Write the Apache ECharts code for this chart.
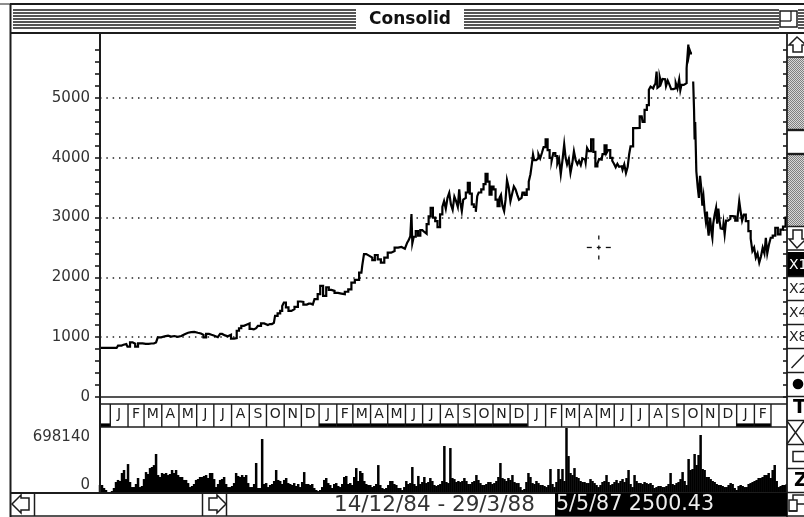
<!DOCTYPE html>
<html><head><meta charset="utf-8">
<style>html,body{margin:0;padding:0;background:#fff}#c{width:804px;height:517px}</style>
<script src="https://cdn.jsdelivr.net/npm/echarts@6/dist/echarts.min.js"></script>
</head><body><div id="c"></div>
<script>
const startDate = Date.UTC(1984, 11, 14);
const totalDays = 1201;
const pricePoints = [[0,820],[29,820],[34,858],[41,875],[46,885],[50,842],[55,913],[59,890],[64,842],[69,897],[80,890],[90,895],[98,913],[104,997],[110,1015],[116,1025],[122,1010],[127,1020],[133,1005],[139,1020],[145,1050],[151,1075],[157,1085],[162,1090],[168,1075],[174,1063],[179,1040],[183,997],[188,1055],[193,1040],[197,1025],[203,1000],[209,1025],[211,1055],[216,1030],[221,1015],[226,1040],[232,975],[237,985],[241,1108],[245,1150],[249,1190],[254,1210],[258,1230],[265,1140],[269,1130],[273,1150],[279,1190],[284,1230],[290,1205],[297,1220],[304,1240],[308,1358],[313,1400],[317,1440],[320,1520],[323,1580],[327,1500],[332,1440],[337,1470],[343,1508],[349,1597],[353,1590],[358,1545],[365,1560],[372,1545],[378,1636],[383,1720],[387,1858],[393,1690],[398,1835],[402,1790],[407,1775],[413,1740],[419,1730],[425,1720],[431,1760],[437,1800],[442,1913],[449,1960],[457,2080],[460,2200],[463,2390],[468,2360],[474,2330],[478,2290],[483,2375],[488,2300],[494,2247],[500,2330],[506,2413],[512,2440],[518,2497],[524,2508],[530,2480],[536,2508],[538,2580],[541,2620],[544,2690],
[545,3058],[547,2570],[550,2680],[554,2775],[558,2700],[562,2790],[565,2760],[569,2730],[573,2890],[576,3020],[580,3163],[584,3000],[588,2940],[592,2840],[597,3055],[600,3180],[603,3275],[606,3150],[609,3330],[612,3413],[615,3220],[618,3130],[621,3350],[624,3275],[627,3180],[629,3472],[631,3250],[634,3108],[636,3300],[638,3330],[641,3420],[645,3580],[648,3400],[652,3220],[655,3180],[659,3097],[660,3358],[664,3420],[669,3472],[672,3560],[676,3730],[679,3600],[683,3385],[686,3520],[690,3472],[693,3300],[697,3192],[700,3330],[702,3380],[705,3200],[708,3108],[710,3300],[713,3625],[716,3500],[719,3275],[722,3400],[725,3520],[728,3472],[731,3380],[734,3300],[737,3330],[740,3420],[744,3380],[748,3472],[751,3600],[754,3725],[756,3900],[758,4055],[760,3960],[765,3992],[768,4060],[771,3990],[774,4080],[777,4180],[781,4308],[784,4130],[788,4000],[791,3950],[794,4080],[798,4030],[801,3900],[804,3980],[807,3725],[810,3960],[813,4225],[815,4000],[818,3890],[821,3980],[824,3747],[827,3900],[830,4108],[833,3960],[836,3890],[839,3950],[842,3880],[845,3990],[848,3970],[850,3920],[853,4163],[856,4110],[861,4308],[864,4100],[868,3858],[871,3900],[874,3980],[877,3970],[880,4060],[884,4208],[887,4080],[890,4130],[894,4000],[897,3950],[900,3900],[903,3842],[906,3900],[909,3850],[912,3858],[915,3800],[918,3890],[921,3747],[924,3850],[926,4055],[929,4192],
[935,4497],[940,4500],[947,4692],[950,4600],[954,4803],[958,4880],[961,5139],[964,5190],[967,5160],[970,5200],[972,5240],[974,5442],[975,5170],[977,5200],[980,5350],[982,5250],[985,5320],[988,5314],[991,5200],[994,5290],[997,5225],[1000,5150],[1005,5164],[1008,5250],[1011,5160],[1014,5310],[1015,5130],[1018,5220],[1023,5247],[1028,5497],[1029,5892],[1030,5720],[1032,5800],[1034,5747],[1036,null],
[1038,5275],[1039,4800],[1040,4308],[1041,4600],[1044,3775],[1046,3500],[1048,3330],[1050,3700],[1052,3500],[1054,3200],[1056,3350],[1058,3108],[1060,2950],[1062,3100],[1063,2830],[1065,2700],[1068,3000],[1070,2750],[1071,2663],[1073,2900],[1076,3050],[1078,3163],[1080,2900],[1082,3150],[1084,2950],[1086,2820],[1089,2808],[1091,2900],[1093,2720],[1096,2950],[1100,2980],[1104,3025],[1108,3020],[1113,2950],[1116,3000],[1119,3275],[1121,3100],[1124,2950],[1127,3050],[1131,2940],[1136,2775],[1139,2650],[1142,2442],[1145,2500],[1148,2330],[1151,2400],[1154,2247],[1157,2350],[1160,2497],[1163,2400],[1165,2663],[1168,2400],[1171,2550],[1174,2663],[1178,2700],[1183,2830],[1187,2720],[1192,2800],[1196,2850],[1201,3000]];
const volumeStepDays = 3.5;
const volumeThousands = [86,86,54,32,11,11,21,54,118,140,129,215,247,150,311,118,64,64,97,161,64,75,150,225,204,268,279,300,419,193,172,215,204,215,193,204,247,215,247,193,172,172,140,140,107,64,75,97,140,150,172,172,183,193,161,215,215,150,64,97,140,150,172,97,64,64,75,107,215,183,172,193,172,193,107,64,64,97,322,54,54,580,97,107,64,
86,97,129,247,140,129,97,140,161,107,97,86,107,75,97,64,118,225,97,97,86,97,54,32,21,32,64,140,161,107,86,54,97,107,75,64,97,172,183,97,107,86,172,268,129,236,215,129,97,86,86,64,75,97,300,86,54,43,54,86,129,129,97,86,54,54,32,64,129,97,107,279,97,75,183,97,118,172,107,118,161,129,86,75,86,97,129,505,118,107,483,161,150,118,129,118,129,161,129,97,97,118,129,193,140,107,86,86,97,118,118,97,107,129,172,322,161,150,129,161,140,193,118,107,107,64,32,43,118,215,172,107,97,
129,107,86,86,75,64,86,258,97,64,118,258,150,258,129,698,397,215,193,268,172,161,129,118,118,107,107,150,129,107,86,64,86,118,129,193,118,86,97,118,140,107,129,150,118,161,247,97,64,193,129,107,107,97,118,107,97,107,86,54,64,75,75,64,64,75,97,215,97,86,107,118,150,225,129,86,365,247,258,419,301,408,623,258,247,172,172,150,129,118,97,86,86,75,64,64,86,107,97,54,32,75,86,75,64,64,97,107,118,129,140,161,161,172,193,193,215,161,247,301,129,64,75,86,86,97];
const priceTicks = [0,200,400,600,800,1000,1200,1400,1600,1800,2000,2200,2400,2600,2800,3000,3200,3400,3600,3800,4000,4200,4400,4600,4800,5000,5200,5400,5600,5800];
const priceLabels = [0,1000,2000,3000,4000,5000];
const priceMax = 6087;
const priceGridLines = [0,1000,2000,3000,4000,5000,priceMax];
const volumeMax = 698140;
const monthLetters = ['', 'J','F','M','A','M','J','J','A','S','O','N','D','J','F','M','A','M','J','J','A','S','O','N','D','J','F','M','A','M','J','J','A','S','O','N','D','J','F',''];
const monthStarts = ['1984-12-14','1985-01-01','1985-02-01','1985-03-01','1985-04-01','1985-05-01','1985-06-01','1985-07-01','1985-08-01','1985-09-01','1985-10-01','1985-11-01','1985-12-01','1986-01-01','1986-02-01','1986-03-01','1986-04-01','1986-05-01','1986-06-01','1986-07-01','1986-08-01','1986-09-01','1986-10-01','1986-11-01','1986-12-01','1987-01-01','1987-02-01','1987-03-01','1987-04-01','1987-05-01','1987-06-01','1987-07-01','1987-08-01','1987-09-01','1987-10-01','1987-11-01','1987-12-01','1988-01-01','1988-02-01','1988-03-01'];
const cursorDate = '1987-05-05', cursorValue = 2500.43;
const titleText = 'Consolid', rangeText = '14/12/84 - 29/3/88', cursorText = '5/5/87 2500.43';

const dayOf = s => (Date.parse(s + 'T00:00:00Z') - startDate) / 864e5;
const INK = '#1c1c1c';
const fontA = '"DejaVu Sans"';

const chart = echarts.init(document.getElementById('c'), null, {renderer:'canvas', width:804, height:517});

const volumeData = volumeThousands.map((v,i)=>[i*volumeStepDays, v*1000]);
const monthData = monthStarts.map((s,i)=>{
  const a = dayOf(s);
  const b = i+1<monthStarts.length ? dayOf(monthStarts[i+1]) : totalDays;
  const yr = +s.slice(0,4);
  const underline = (yr%2===0 && monthLetters[i]!=='' ) || i===0;
  return [a,b,monthLetters[i],underline?1:0,i];
});

function renderMonth(params, api){
  const a = api.coord([api.value(0),0]), b = api.coord([api.value(1),0]);
  const cs = params.coordSys, top = cs.y, bot = cs.y+cs.height;
  const kids = [];
  if (api.value(4)>0) {
    kids.push({type:'line',shape:{x1:a[0],y1:top,x2:a[0],y2:bot},style:{stroke:INK,lineWidth:1.4}});
  }
  if (api.value(3)) kids.push({type:'rect',shape:{x:a[0],y:bot-3.6,width:b[0]-a[0],height:3.6},style:{fill:'#000'}});
  const t = monthLetters[api.value(4)];
  if (t) kids.push({type:'text',style:{text:t,x:(a[0]+b[0])/2,y:top+10.5,align:'center',verticalAlign:'middle',font:'14px '+fontA,fill:INK}});
  return {type:'group',children:kids};
}
function renderCursor(params, api){
  const p = api.coord([api.value(0),api.value(1)]);
  const x=p[0], y=p[1];
  const seg=(x1,y1,x2,y2)=>({type:'line',shape:{x1:x1,y1:y1,x2:x2,y2:y2},style:{stroke:'#111',lineWidth:1.3}});
  return {type:'group',children:[seg(x-12,y,x-7,y),seg(x+7,y,x+12,y),seg(x,y-12,x,y-8),seg(x,y+8,x,y+12),seg(x-2,y,x+2,y),seg(x,y-2,x,y+2)]};
}

const L=(x1,y1,x2,y2,w)=>({type:'line',z:50,shape:{x1,y1,x2,y2},style:{stroke:INK,lineWidth:w||1.6}});
const P=(pts)=>({type:'polygon',z:50,shape:{points:pts},style:{fill:'#fff',stroke:INK,lineWidth:1.5}});
const R=(x,y,w,h,fill,stroke)=>({type:'rect',z:49,shape:{x,y,width:w,height:h},style:{fill:fill||'#fff',stroke:stroke||null,lineWidth:1.5}});
const T=(t,x,y,font,fill,align)=>({type:'text',z:51,style:{text:t,x,y,font,fill:fill||INK,align:align||'left',verticalAlign:'middle'}});
const pat=document.createElement('canvas');pat.width=2;pat.height=2;
(function(){const g=pat.getContext('2d');g.fillStyle='#d8d8d8';g.fillRect(0,0,2,2);g.fillStyle='#808080';g.fillRect(0,0,1,1);g.fillRect(1,1,1,1);})();
const chrome=[];
chrome.push(R(11,5,793,28));
chrome.push(L(0,4,10,4,1),L(10,4,804,4,2),L(10.5,4,10.5,517,2),L(11,33,804,33,1.8));
for(let i=0;i<7;i++){const y=10+i*3;chrome.push(L(13,y,356,y,1.5),L(464,y,779,y,1.5),L(798,y,804,y,1.5));}
chrome.push(T(titleText,410,19.5,'bold 17px '+fontA,'#111','center'));
chrome.push(R(780,11,17,16,'#fff',INK),L(780,21,791,21,1.3),L(791,11,791,21,1.3));
chrome.push(R(787,33,17,484,'#fff'),L(787,33,787,517,1.8));
chrome.push(P([[797,37],[789,45],[793,45],[793,52],[802,52],[802,45],[806,45]]),L(787,57,804,57,1.5));
chrome.push({type:'rect',z:49,shape:{x:788,y:57,width:16,height:169},style:{fill:{image:pat,repeat:'repeat'}}});
chrome.push(R(788,130,16,24,'#fff'),L(787,130,804,130,2.4),L(787,154,804,154,2.4),L(787,226.5,804,226.5,1.5));
chrome.push(P([[797,248],[789,239],[793,239],[793,230],[802,230],[802,239],[806,239]]),L(787,250,804,250,1.5));
chrome.push(R(787,252,17,25,'#000'),T('X1',789,265,'14px '+fontA,'#fff'));
chrome.push(T('X2',789,289,'14px '+fontA),L(787,276.5,804,276.5,1.5),L(787,300.5,804,300.5,1.5));
chrome.push(T('X4',789,313,'14px '+fontA),L(787,324.5,804,324.5,1.5));
chrome.push(T('X8',789,337,'14px '+fontA),L(787,348.5,804,348.5,1.5));
chrome.push(L(791.5,368,804,355,1.4),L(787,372.5,804,372.5,1.5));
chrome.push({type:'circle',z:50,shape:{cx:798,cy:384,r:5.3},style:{fill:'#000'}},L(787,396.5,804,396.5,1.5));
chrome.push(T('T',793,408,'bold 19px '+fontA,'#000'),L(787,420.5,804,420.5,1.5));
chrome.push(L(787,421,804,444,1.4),L(787,444,804,421,1.4),L(787,444.5,804,444.5,1.5));
chrome.push({type:'rect',z:50,shape:{x:793,y:451.5,width:12,height:10},style:{fill:'#fff',stroke:INK,lineWidth:1.5}},L(787,468.5,804,468.5,1.5));
chrome.push(T('Z',794,481,'bold 19px '+fontA,'#000'),L(787,492.5,804,492.5,1.5));
chrome.push({type:'rect',z:50,shape:{x:793,y:495,width:12,height:9},style:{fill:'#fff',stroke:INK,lineWidth:1.5}},{type:'rect',z:50,shape:{x:789,y:500,width:8,height:11},style:{fill:'#fff',stroke:INK,lineWidth:1.5}});
chrome.push(L(789,511,797,511,1.4));
chrome.push(L(100,404,787,404,1.6),L(100,427,787,427,1.6),L(100,33,100,493,2));
chrome.push(R(11,493.5,776,23,'#fff'),L(11,493,787,493,1.8),L(10,516,804,516,1.5));
chrome.push(L(34.5,493,34.5,516,1.5),L(202.5,493,202.5,516,1.5),L(226.5,493,226.5,516,1.5));
chrome.push(P([[12,504],[21,495],[21,498],[29,498],[29,510],[21,510],[21,513]]));
chrome.push(P([[226,504],[217,495],[217,498],[209,498],[209,510],[217,510],[217,513]]));
chrome.push({type:'rect',z:50,shape:{x:555,y:493,width:232,height:23},style:{fill:'#000'}});
chrome.push(T(rangeText,334,505,'21.5px '+fontA,'#333'));
chrome.push(T(cursorText,556,505,'20.6px '+fontA,'#eee'));

const plain = v => String(v);
const xBase = {type:'value',min:0,max:totalDays,axisLabel:{show:false},axisTick:{show:false},splitLine:{show:false}};
chart.setOption({
  animation:false,
  backgroundColor:'#fff',
  grid:[
    {left:100,width:687,top:33,height:364},
    {left:100,width:687,top:404,height:23},
    {left:100,width:687,top:428,height:65}
  ],
  xAxis:[
    Object.assign({gridIndex:0,axisLine:{show:true,onZero:false,lineStyle:{color:INK,width:1.5}}},xBase),
    Object.assign({gridIndex:1,axisLine:{show:false}},xBase),
    Object.assign({gridIndex:2,axisLine:{show:false}},xBase)
  ],
  yAxis:[
    {type:'value',gridIndex:0,position:'left',min:0,max:priceMax,
     axisLine:{show:true,lineStyle:{color:INK,width:2}},
     axisTick:{show:true,length:5,customValues:priceTicks,lineStyle:{color:INK,width:1.6}},
     axisLabel:{show:true,customValues:priceLabels,formatter:plain,margin:10,fontFamily:fontA,fontSize:15,color:'#333'},
     splitLine:{show:false}},
    {type:'value',gridIndex:0,position:'right',min:0,max:priceMax,
     axisLine:{show:false},
     axisTick:{show:true,inside:true,length:4,customValues:priceTicks,lineStyle:{color:INK,width:1.6}},
     axisLabel:{show:false},splitLine:{show:false}},
    {type:'value',gridIndex:0,position:'left',min:0,max:priceMax,
     axisLine:{show:false},axisTick:{show:false,customValues:priceGridLines},axisLabel:{show:false},
     splitLine:{show:true,showMinLine:false,showMaxLine:false,lineStyle:{color:'#222',width:1.5,type:[1.5,4.83],dashOffset:0}}},
    {type:'value',gridIndex:1,min:0,max:1,show:false},
    {type:'value',gridIndex:2,min:0,max:volumeMax,interval:volumeMax,
     axisLine:{show:false},axisTick:{show:false},splitLine:{show:false},
     axisLabel:{show:true,formatter:plain,margin:10,padding:[2,0,0,0],fontFamily:fontA,fontSize:15,color:'#333',verticalAlignMinLabel:'bottom',verticalAlignMaxLabel:'top'}}
  ],
  series:[
    {type:'line',name:'Price',xAxisIndex:0,yAxisIndex:0,data:pricePoints,step:'middle',showSymbol:false,connectNulls:false,
     lineStyle:{color:'#000',width:2.2,join:'miter'},silent:true,z:5},
    {type:'custom',name:'Cursor',xAxisIndex:0,yAxisIndex:0,data:[[dayOf(cursorDate),cursorValue]],renderItem:renderCursor,silent:true,clip:false,z:6},
    {type:'custom',name:'Months',xAxisIndex:1,yAxisIndex:3,data:monthData,renderItem:renderMonth,silent:true,clip:false,z:6},
    {type:'bar',name:'Volume',xAxisIndex:2,yAxisIndex:4,data:volumeData,barWidth:2.5,itemStyle:{color:'#000'},silent:true}
  ],
  graphic:{elements:chrome}
});
</script></body></html>
